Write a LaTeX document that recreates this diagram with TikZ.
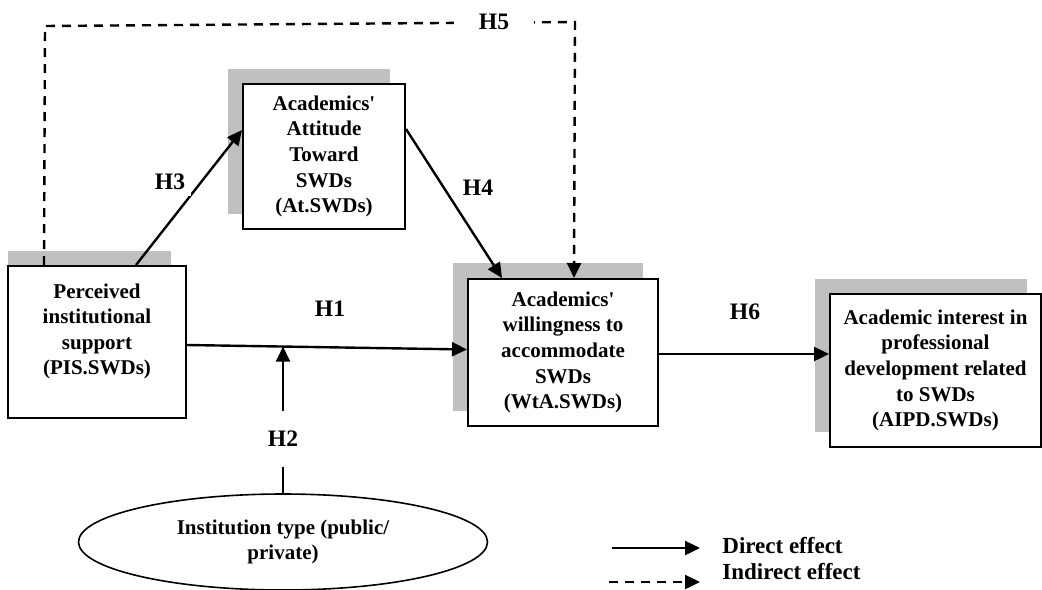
\documentclass[tikz,border=0pt]{standalone}
\usepackage{fontspec}
\setmainfont{Liberation Serif}
\usetikzlibrary{shapes.geometric,arrows.meta,calc}
\definecolor{shadowgray}{RGB}{192,192,192}
\begin{document}
\begin{tikzpicture}[x=0.5pt,y=-0.5pt,
  boxnode/.style={draw, line width=1pt, fill=white, rectangle, align=center,
    font=\fontsize{10.5}{12.8}\selectfont\bfseries, inner sep=0pt},
  hlabel/.style={fill=white, font=\fontsize{11.8}{13}\selectfont\bfseries, inner sep=3pt},
  legtext/.style={font=\fontsize{11.5}{13}\selectfont\bfseries, inner sep=0pt},
  conn/.style={line width=1.2pt, -{Triangle[length=7.5pt,width=7pt]}},
  dashconn/.style={conn, dash pattern=on 4.5pt off 3.5pt},
  shadowfill/.style={fill=shadowgray, draw=none}]
\useasboundingbox (0,0) rectangle (1042,589);
\fill[white] (0,0) rectangle (1042,589);

% shadows
\fill[shadowfill] (8,251) rectangle (171,403);
\fill[shadowfill] (228,69) rectangle (390,214);
\fill[shadowfill] (453,263) rectangle (643,411);
\fill[shadowfill] (815,279) rectangle (1027,432);

% boxes
\node[boxnode, minimum width=89pt, minimum height=76pt] (pis) at (97,342)
  {Perceived\\institutional\\support\\(PIS.SWDs)\\\mbox{}};
\node[boxnode, minimum width=81pt, minimum height=72.5pt] (att) at (324,156.5)
  {Academics\textquotesingle\\Attitude\\Toward\\SWDs\\(At.SWDs)};
\node[boxnode, minimum width=95pt, minimum height=73.5pt] (wta) at (563,352.5)
  {Academics\textquotesingle\\willingness to\\accommodate\\SWDs\\(WtA.SWDs)};
\node[boxnode, minimum width=105.5pt, minimum height=76.5pt] (aipd) at (935.5,370.5)
  {Academic interest in\\professional\\development related\\to SWDs\\(AIPD.SWDs)};
\node[ellipse, draw, line width=0.8pt, fill=white, minimum width=204.5pt, minimum height=48pt,
  inner sep=0pt, align=center, font=\fontsize{10.5}{12.8}\selectfont\bfseries] (inst) at (283,542)
  {Institution type (public/\\private)};

% connectors
\coordinate (h1a) at ($(pis.east)+(0,3)$);
\coordinate (h1b) at ($(wta.west)+(0,-3)$);
\draw[conn] (h1a) -- (h1b);
\coordinate (h2tip) at ($(h1a)!0.344!(h1b)$);
\draw[conn] (inst.north) -- (inst.north |- h2tip);
\draw[conn] ($(pis.north west)+(129,0)$) -- ($(att.north west)+(0,47)$);
\draw[conn] ($(att.north east)+(0,46)$) -- ($(wta.north west)+(35,0)$);
\coordinate (h5a) at (45,26);
\coordinate (h5b) at (575,22);
\draw[dashconn] ($(pis.north west)+(37,0)$) -- (h5a) -- (h5b) -- ($(wta.north west)+(107,0)$);
\coordinate (h6a) at ($(wta.east)+(0,1.5)$);
\draw[conn] (h6a) -- (h6a -| aipd.west);

% labels
\node[hlabel, minimum width=40pt] (h5) at (494,22) {H5};
\node[hlabel, minimum width=42pt, minimum height=28pt] (h2) at (283,439) {H2};
\node[hlabel] (h1) at (330,309) {H1};
\node[hlabel] (h3) at (170,182) {H3};
\node[hlabel] (h4) at (478,188) {H4};
\node[hlabel] (h6) at (745,312) {H6};

% legend
\coordinate (lsa) at (612,548);
\coordinate (lsb) at (700,548);
\coordinate (lda) at (609,582);
\coordinate (ldb) at (700,582);
\draw[conn] (lsa) -- (lsb);
\draw[dashconn] (lda) -- (ldb);
\node[legtext, anchor=west] (ld) at (722,546) {Direct effect};
\node[legtext, anchor=west] (li) at (722,572) {Indirect effect};
\end{tikzpicture}
\end{document}
